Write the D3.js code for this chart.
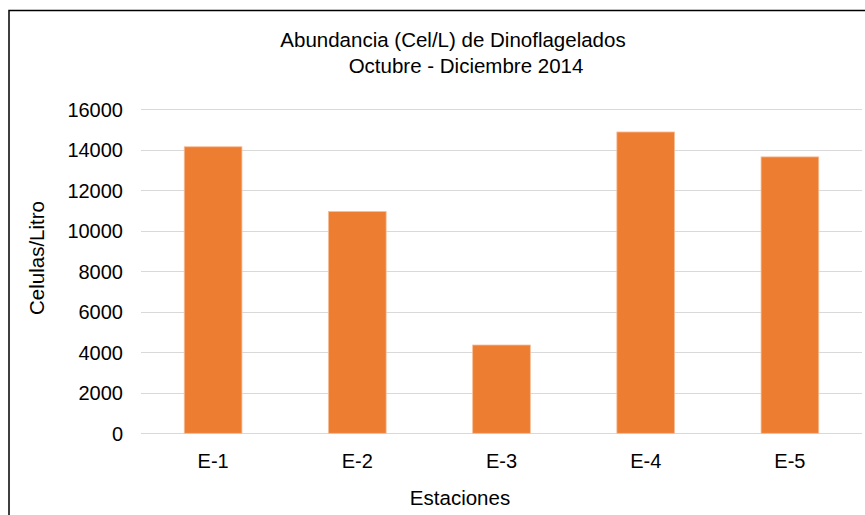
<!DOCTYPE html>
<html>
<head>
<meta charset="utf-8">
<script src="https://cdn.jsdelivr.net/npm/d3@7"></script>
<style>
  html, body { margin: 0; padding: 0; background: #fff; }
  svg { display: block; }
  text { font-family: "Liberation Sans", Arial, sans-serif; fill: #000; }
</style>
</head>
<body>
<svg id="chart" width="865" height="515"></svg>
<script>
const categories = ["E-1", "E-2", "E-3", "E-4", "E-5"];
const values = [14150, 10950, 4360, 14880, 13650];
const yTicks = [0, 2000, 4000, 6000, 8000, 10000, 12000, 14000, 16000];
const titleLines = ["Abundancia (Cel/L) de Dinoflagelados", "Octubre - Diciembre 2014"];
const xTitle = "Estaciones";
const yTitle = "Celulas/Litro";

const svg = d3.select("#chart");
const plot = { left: 141, right: 862, top: 109.3, bottom: 433.3 };

// frame (cut off on right and bottom)
svg.append("rect")
  .attr("x", 9).attr("y", 10.5)
  .attr("width", 900).attr("height", 600)
  .attr("fill", "#fff").attr("stroke", "#000").attr("stroke-width", 1.5);

const x = d3.scaleBand().domain(categories).range([plot.left, plot.right]).paddingInner(0.6).paddingOuter(0.3);
const y = d3.scaleLinear().domain([0, 16000]).range([plot.bottom, plot.top]);

// gridlines
svg.append("g").selectAll("line").data(yTicks).join("line")
  .attr("x1", plot.left).attr("x2", plot.right)
  .attr("y1", d => Math.round(y(d)) + 0.5).attr("y2", d => Math.round(y(d)) + 0.5)
  .attr("stroke", "#d9d9d9").attr("stroke-width", 1);

// bars
svg.append("g").selectAll("rect").data(categories).join("rect")
  .attr("x", d => x(d))
  .attr("y", (d, i) => y(values[i]))
  .attr("width", x.bandwidth())
  .attr("height", (d, i) => y(0) - y(values[i]))
  .attr("fill", "#ED7D31")
  .attr("stroke", "#F6BE98").attr("stroke-width", 0.8);

// y axis labels
const yAxis = d3.axisLeft(y).tickValues(yTicks).tickSize(0).tickPadding(0).tickFormat(d3.format("d"));
const gy = svg.append("g").attr("transform", `translate(${123},0)`).call(yAxis);
gy.select(".domain").remove();
gy.selectAll("text").attr("font-size", 20).attr("fill", "#000")
  .attr("font-family", "Liberation Sans, Arial, sans-serif").attr("dy", "0.35em").attr("x", 0);

// x axis labels
const xAxis = d3.axisBottom(x).tickSize(0).tickPadding(0);
const gx = svg.append("g").attr("transform", `translate(0,${plot.bottom})`).call(xAxis);
gx.select(".domain").remove();
gx.selectAll("text").attr("font-size", 20).attr("fill", "#000")
  .attr("font-family", "Liberation Sans, Arial, sans-serif").attr("dy", null).attr("y", 34.5);

// title
svg.append("text").attr("x", 453).attr("y", 47).attr("text-anchor", "middle")
  .attr("font-size", 20.5).text(titleLines[0]);
svg.append("text").attr("x", 466).attr("y", 73).attr("text-anchor", "middle")
  .attr("font-size", 20.5).text(titleLines[1]);

// axis titles
svg.append("text").attr("x", 460).attr("y", 505).attr("text-anchor", "middle")
  .attr("font-size", 20.5).text(xTitle);
svg.append("text").attr("transform", "translate(44,258) rotate(-90)").attr("text-anchor", "middle")
  .attr("font-size", 20.5).text(yTitle);
</script>
</body>
</html>
